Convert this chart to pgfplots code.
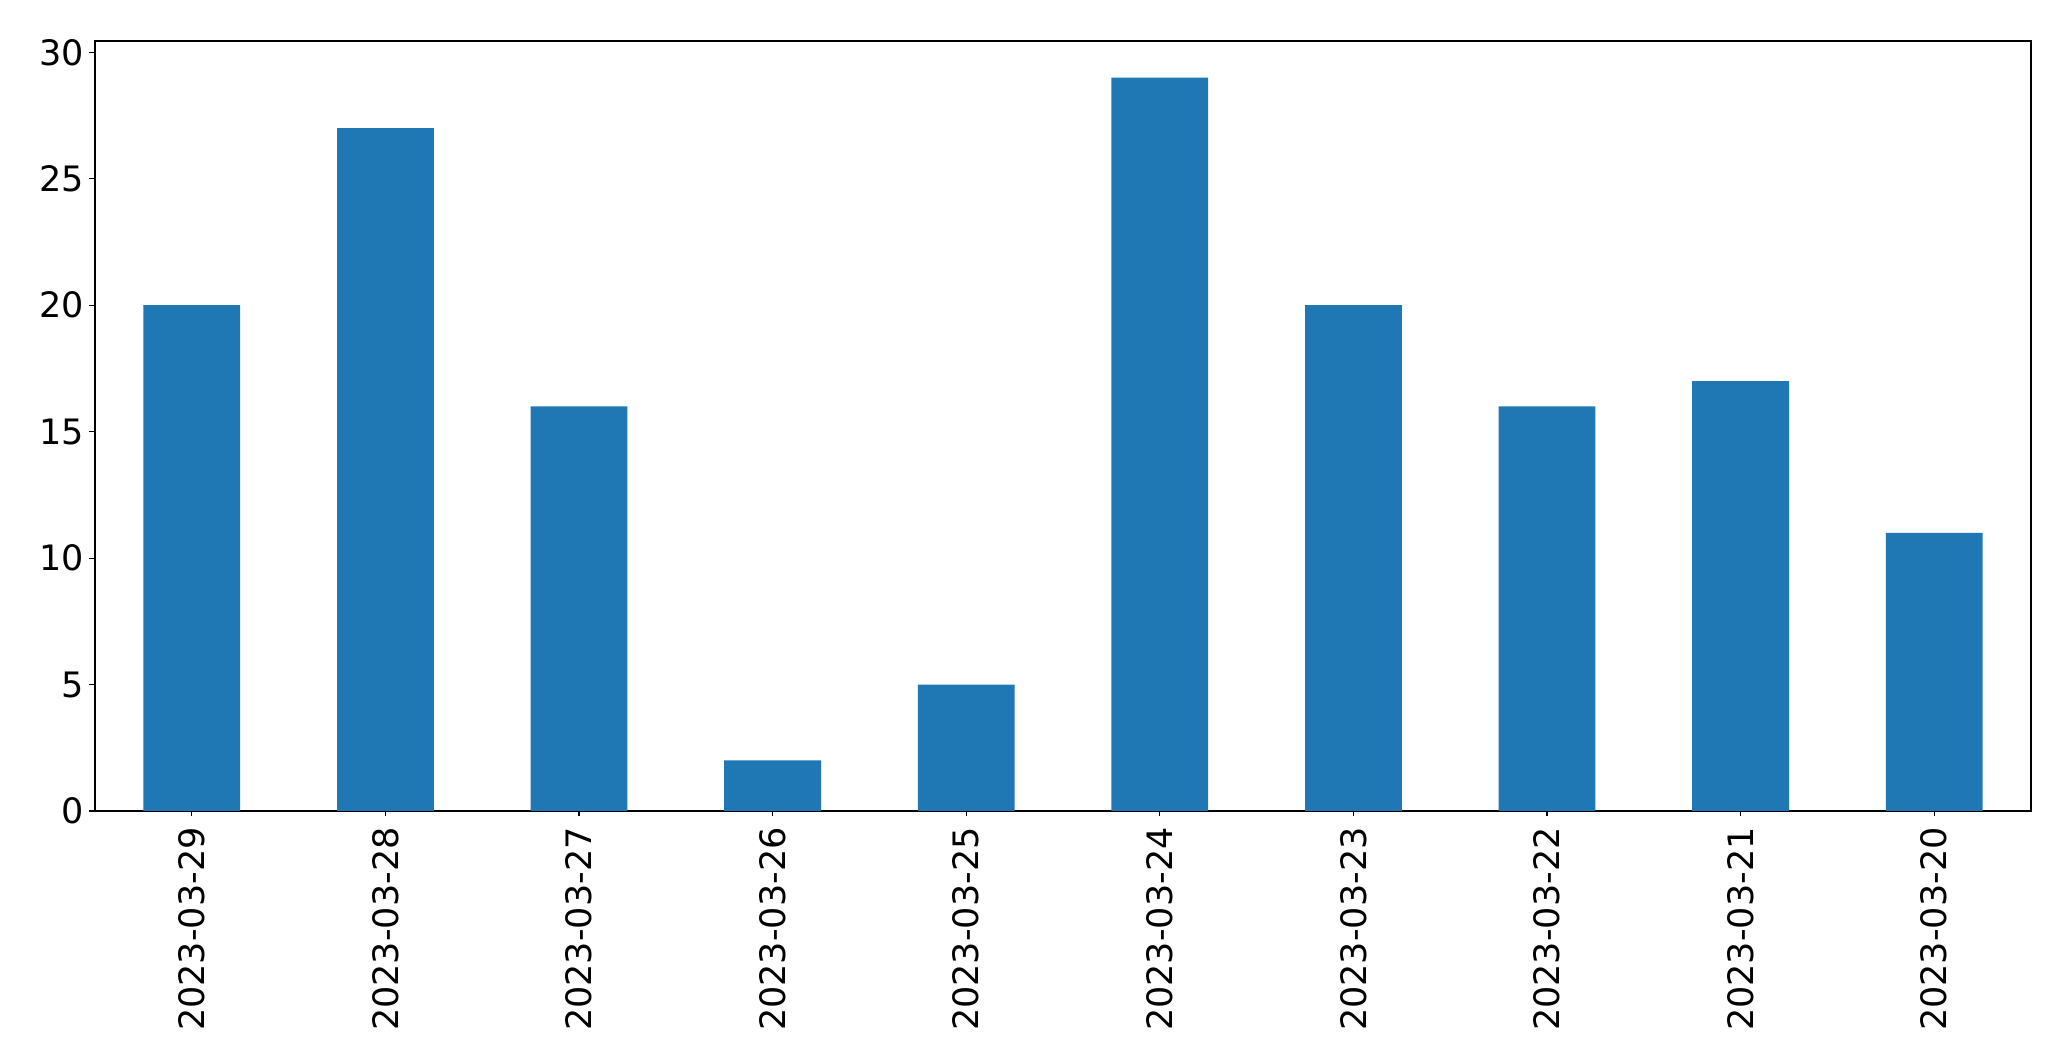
\documentclass[border=0pt]{standalone}
\usepackage{fontspec}
\setmainfont{DejaVu Sans}
\usepackage{pgfplots}
\pgfplotsset{compat=1.18}
\definecolor{barblue}{HTML}{1F77B4}
\begin{document}
\begin{tikzpicture}
\path[use as bounding box] (-47.5pt,-126pt) rectangle (988pt,405.5pt);
\begin{axis}[
  at={(0pt,0pt)}, anchor=south west,
  scale only axis, width=968pt, height=385pt,
  xmin=-0.5, xmax=9.5, ymin=0, ymax=30.45,
  xtick={0,...,9},
  xticklabels={2023-03-29,2023-03-28,2023-03-27,2023-03-26,2023-03-25,2023-03-24,2023-03-23,2023-03-22,2023-03-21,2023-03-20},
  ytick={0,5,...,30},
  tick pos=left, tick align=outside,
  major tick length=2.75pt,
  axis line style={line width=0.6pt},
  every tick/.style={black, line width=0.6pt},
  tick label style={font=\fontsize{17.5}{21}\selectfont},
  /pgf/number format/assume math mode=true,
  xticklabel shift=2.75pt,
  yticklabel shift=2.75pt,
  xticklabel style={rotate=90, anchor=east, inner xsep=2.5pt, inner ysep=0pt},
  yticklabel style={anchor=east, inner sep=0pt},
]
\addplot[ybar, bar width=0.5, bar shift=0pt, fill=barblue, draw=none] coordinates {
(0,20) (1,27) (2,16) (3,2) (4,5) (5,29) (6,20) (7,16) (8,17) (9,11)};
\end{axis}
\end{tikzpicture}
\end{document}
